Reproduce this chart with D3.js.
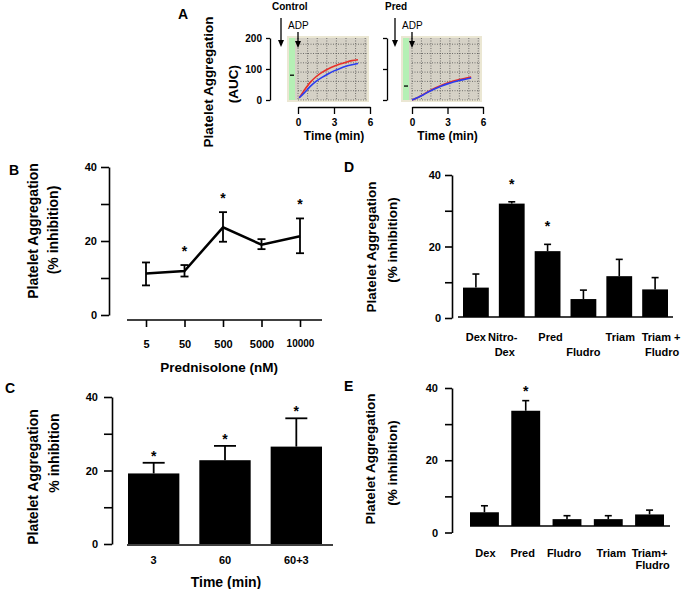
<!DOCTYPE html>
<html><head><meta charset="utf-8">
<script src="https://cdn.jsdelivr.net/npm/d3@7"></script>
<style>
body{margin:0;background:#fff}
svg{display:block}
text{font-family:"Liberation Sans",Arial,sans-serif;fill:#000}
</style>
</head><body><svg id="c" width="683" height="589"></svg>
<script>
// ---------- Panel A data (AUC traces, time in min) ----------
const ctrlTime = [0.1,0.5,1,1.5,2,2.5,3,3.5,4,4.5,5];
const controlRed = [7,30,56,75,89,100,109,116,122,127,130];
const controlBlue = [7,22,43,60,73,84,94,102,109,114,118];
const predTime = [0,0.5,1,1.5,2,2.5,3,3.5,4,4.5,5];
const predRed = [0,8,19,30,40,48,55,61,66,70,74];
const predBlue = [0,8,18,28,37,45,52,58,63,67,71];
const aucTicks = [0,100,200];
const timeTicks = [0,3,6];
const markerLevels = [80,45];

// ---------- Panel B data ----------
const bDoses = ["5","50","500","5000","10000"];
const bMean = [11.2,11.9,23.7,19.0,21.3];
const bHigh = [14.2,13.5,27.8,20.5,26.1];
const bLow  = [8.0,10.4,19.8,17.8,16.7];
const bSig  = [false,true,true,false,true];

// ---------- Panel C data ----------
const cTimes = ["3","60","60+3"];
const cMean = [19.2,22.8,26.5];
const cErr  = [2.9,3.9,7.7];
const cSig  = [true,true,true];

// ---------- Panel D data ----------
const dDrugs = ["Dex","Nitro-Dex","Pred","Fludro","Triam","Triam + Fludro"];
const dLabels = [["Dex"],["Nitro-","Dex"],["Pred"],["","Fludro"],["Triam"],["Triam +","Fludro"]];
const dMean = [8.5,32.0,18.7,5.3,11.7,8.0];
const dErr  = [3.8,0.5,1.9,2.5,4.7,3.3];
const dSig  = [false,true,true,false,false,false];

// ---------- Panel E data ----------
const eDrugs = ["Dex","Pred","Fludro","Triam","Triam+Fludro"];
const eLabels = [["Dex"],["Pred"],["Fludro"],["Triam"],["Triam+","Fludro"]];
const eMean = [5.6,33.7,3.7,3.7,5.0];
const eErr  = [1.8,2.8,0.95,0.95,1.2];
const eSig  = [false,true,false,false,false];

const pctTicks = [0,10,20,30,40];

const svg = d3.select("#c");
svg.append("rect").attr("width",683).attr("height",589).attr("fill","#fff");

function styleAxis(g, sw, fs){
  g.selectAll("path.domain").attr("stroke","#000").attr("stroke-width",sw);
  g.selectAll(".tick line").attr("stroke","#000").attr("stroke-width",sw);
  g.selectAll(".tick text").attr("font-size",fs).attr("font-weight","bold").attr("font-family","Liberation Sans, Arial, sans-serif").attr("fill","#000");
}
function vTitle(x, cy, txt, fs){
  svg.append("text").attr("transform",`translate(${x},${cy}) rotate(-90)`)
    .attr("text-anchor","middle").attr("font-size",fs).attr("font-weight","bold").text(txt);
}
function letter(x,y,t){
  svg.append("text").attr("x",x).attr("y",y).attr("font-size",14).attr("font-weight","bold").text(t);
}
function star(x, cy){
  svg.append("text").attr("x",x).attr("y",cy+8).attr("text-anchor","middle")
    .attr("font-size",14).attr("font-weight","bold").text("*");
}

// =================== Panel A ===================
letter(178,19,"A");
vTitle(213,82,"Platelet Aggregation",13.5);
vTitle(238,84,"(AUC)",13.5);

const yA = d3.scaleLinear().domain([0,200]).range([100,38]);
function tracePanel(x0, x1, axisX, showLabels, title, titleDx, tRed, tBlue, times, marker){
  const x = d3.scaleLinear().domain([0,6]).range([x0,x1]);
  // y axis bracket
  const ga = svg.append("g").attr("transform",`translate(${axisX},0)`)
    .call(d3.axisLeft(yA).tickValues(aucTicks).tickSize(4).tickSizeOuter(0).tickPadding(4)
      .tickFormat(showLabels ? d3.format("d") : () => ""));
  styleAxis(ga,1.3,10);
  // box
  const left = x(0)-11, right = x(6)-1, top = yA(200)-2, bottom = yA(0)+2;
  svg.append("rect").attr("x",left).attr("y",top).attr("width",right-left).attr("height",bottom-top).attr("fill","#ebe7d3");
  svg.append("rect").attr("x",left+2).attr("y",top+2).attr("width",right-left-4).attr("height",bottom-top-4).attr("fill","#d5d1c6");
  svg.append("rect").attr("x",left+2).attr("y",top+2).attr("width",6).attr("height",bottom-top-4).attr("fill","#b5f0b5");
  // grid
  const gx = d3.range(0,5.7,0.8), gy = d3.range(0,201,30);
  gx.forEach(t => svg.append("line").attr("x1",x(t)).attr("x2",x(t)).attr("y1",top+2).attr("y2",bottom-2)
    .attr("stroke","#444").attr("stroke-width",0.7).attr("stroke-dasharray","1,1.5"));
  gy.forEach(v => svg.append("line").attr("x1",x(0)).attr("x2",right-2).attr("y1",yA(v)).attr("y2",yA(v))
    .attr("stroke","#444").attr("stroke-width",0.7).attr("stroke-dasharray","1,1.5"));
  // marker dash in green strip
  svg.append("line").attr("x1",left+3).attr("x2",left+7).attr("y1",yA(marker)).attr("y2",yA(marker)).attr("stroke","#000").attr("stroke-width",1.3);
  // traces
  const line = d3.line().x((d,i)=>x(times[i])).y(d=>yA(d)).curve(d3.curveMonotoneX);
  svg.append("path").attr("d",line(tRed)).attr("fill","none").attr("stroke","#e8302a").attr("stroke-width",1.6);
  svg.append("path").attr("d",line(tBlue)).attr("fill","none").attr("stroke","#2b3cf0").attr("stroke-width",1.6);
  // x axis
  const gxA = svg.append("g").attr("transform","translate(0,107)")
    .call(d3.axisBottom(x).tickValues(timeTicks).tickSize(7).tickSizeOuter(0).tickPadding(5).tickFormat(d3.format("d")));
  styleAxis(gxA,1.3,10);
  svg.append("text").attr("x",x(3)).attr("y",140).attr("text-anchor","middle").attr("font-size",12).attr("font-weight","bold").text("Time (min)");
  // arrows
  function arrow(ax, y1, y2){
    svg.append("line").attr("x1",ax).attr("x2",ax).attr("y1",y1).attr("y2",y2-6).attr("stroke","#000").attr("stroke-width",1.3);
    svg.append("path").attr("d",`M${ax-3},${y2-7}L${ax+3},${y2-7}L${ax},${y2}Z`).attr("fill","#000");
  }
  arrow(x(0)-17, 18, 47);
  arrow(x(0), 32, 48);
  svg.append("text").attr("x",x(0)-10).attr("y",29).attr("font-size",10).text("ADP");
  svg.append("text").attr("x",x(0)+titleDx).attr("y",10).attr("font-size",10).attr("font-weight","bold").text(title);
}
tracePanel(298,370,270,true,"Control",-26,controlRed,controlBlue,ctrlTime,markerLevels[0]);
tracePanel(412,483,387,false,"Pred",-27,predRed,predBlue,predTime,markerLevels[1]);

// =================== Panel B ===================
letter(9,175,"B");
vTitle(38,231,"Platelet Aggregation",14);
vTitle(58,230,"(% inhibition)",14);
const xB = d3.scalePoint().domain(bDoses).range([146,300]);
const yB = d3.scaleLinear().domain([0,40]).range([315,167]);
const gyB = svg.append("g").attr("transform","translate(109,0)")
  .call(d3.axisLeft(yB).tickValues(pctTicks).tickSize(8).tickSizeOuter(0).tickPadding(4).tickFormat(d=>d%20===0?d:""));
styleAxis(gyB,1.6,11);
svg.append("line").attr("x1",127).attr("x2",322).attr("y1",320).attr("y2",320).attr("stroke","#000").attr("stroke-width",1.6);
const gxB = svg.append("g").attr("transform","translate(0,320)")
  .call(d3.axisBottom(xB).tickSize(7).tickSizeOuter(0).tickPadding(13));
gxB.select("path.domain").remove();
styleAxis(gxB,1.6,11);
gxB.selectAll(".tick text").filter(d=>d.length>4).attr("font-size",10);
svg.append("text").attr("x",219).attr("y",372).attr("text-anchor","middle").attr("font-size",13.5).attr("font-weight","bold").text("Prednisolone (nM)");
bDoses.forEach((d,i)=>{
  const cx = xB(d);
  svg.append("line").attr("x1",cx).attr("x2",cx).attr("y1",yB(bLow[i])).attr("y2",yB(bHigh[i])).attr("stroke","#000").attr("stroke-width",1.8);
  [bLow[i],bHigh[i]].forEach(v=>svg.append("line").attr("x1",cx-4).attr("x2",cx+4).attr("y1",yB(v)).attr("y2",yB(v)).attr("stroke","#000").attr("stroke-width",1.8));
  if(bSig[i]) star(cx, yB(bHigh[i])-17);
});
svg.append("path").attr("d",d3.line().x((d,i)=>xB(bDoses[i])).y(d=>yB(d))(bMean))
  .attr("fill","none").attr("stroke","#000").attr("stroke-width",2.5);

// =================== Panel C ===================
letter(5,393,"C");
vTitle(38,477,"Platelet Aggregation",14);
vTitle(59,453,"% inhibition",14);
const xC = d3.scaleBand().domain(cTimes).range([128,322]).paddingInner(0.28).paddingOuter(0);
const yC = d3.scaleLinear().domain([0,40]).range([544,397]);
const gyC = svg.append("g").attr("transform","translate(112,0)")
  .call(d3.axisLeft(yC).tickValues(pctTicks).tickSize(8).tickSizeOuter(0).tickPadding(6).tickFormat(d=>d%20===0?d:""));
styleAxis(gyC,1.6,11);
svg.append("line").attr("x1",127).attr("x2",333).attr("y1",545).attr("y2",545).attr("stroke","#000").attr("stroke-width",1.6);
cTimes.forEach((t,i)=>{
  const cx = xC(t)+xC.bandwidth()/2;
  const top = yC(cMean[i]+cErr[i]);
  svg.append("line").attr("x1",cx).attr("x2",cx).attr("y1",yC(cMean[i])).attr("y2",top).attr("stroke","#000").attr("stroke-width",1.8);
  svg.append("line").attr("x1",cx-11).attr("x2",cx+11).attr("y1",top).attr("y2",top).attr("stroke","#000").attr("stroke-width",1.8);
  svg.append("rect").attr("x",xC(t)).attr("y",yC(cMean[i])).attr("width",xC.bandwidth()).attr("height",yC(0)-yC(cMean[i])).attr("fill","#000");
  if(cSig[i]) star(cx, top-10);
});
const gxC = svg.append("g").attr("transform","translate(0,545)")
  .call(d3.axisBottom(xC).tickSize(0).tickPadding(11));
gxC.select("path.domain").remove();
styleAxis(gxC,1.6,11);
svg.append("text").attr("x",226).attr("y",587).attr("text-anchor","middle").attr("font-size",14).attr("font-weight","bold").text("Time (min)");

// =================== Panel D & E ===================
function barPanel(o){
  letter(344,o.letterY,o.letter);
  vTitle(o.t1x,o.t1y,"Platelet Aggregation",13.5);
  vTitle(o.t2x,o.t2y,"(% inhibition)",13.5);
  const x = d3.scaleBand().domain(o.cats).range(o.xr).paddingInner(o.pad).paddingOuter(0);
  const y = d3.scaleLinear().domain([0,40]).range(o.yr);
  const gy = svg.append("g").attr("transform","translate(452,0)")
    .call(d3.axisLeft(y).tickValues(pctTicks).tickSize(7).tickSizeOuter(0).tickPadding(o.tpad).tickFormat(d=>d%20===0?d:""));
  styleAxis(gy,1.6,11);
  const base = y(0) - o.baseShift;
  svg.append("line").attr("x1",o.axis[0]).attr("x2",o.axis[1]).attr("y1",base).attr("y2",base).attr("stroke","#000").attr("stroke-width",1.6);
  o.cats.forEach((c,i)=>{
    const cx = x(c)+x.bandwidth()/2;
    const top = y(o.mean[i]+o.err[i]);
    svg.append("line").attr("x1",cx).attr("x2",cx).attr("y1",y(o.mean[i])).attr("y2",top).attr("stroke","#000").attr("stroke-width",1.6);
    svg.append("line").attr("x1",cx-3.5).attr("x2",cx+3.5).attr("y1",top).attr("y2",top).attr("stroke","#000").attr("stroke-width",1.6);
    svg.append("rect").attr("x",x(c)).attr("y",y(o.mean[i])).attr("width",x.bandwidth()).attr("height",base-y(o.mean[i])).attr("fill","#000");
    if(o.sig[i]) star(cx, top-o.starOff);
    o.labels[i].forEach((ln,k)=>{
      svg.append("text").attr("x",cx+o.ldx[i]+(k===1?o.l2dx[i]:0)).attr("y",o.ly[k]).attr("text-anchor","middle")
        .attr("font-size",11).attr("font-weight","bold").text(ln);
    });
  });
}
barPanel({letter:"D",letterY:172,t1x:376,t1y:247,t2x:397,t2y:240,cats:dDrugs,labels:dLabels,
  mean:dMean,err:dErr,sig:dSig,xr:[463,668],pad:0.28,yr:[318,175],tpad:4,baseShift:1,axis:[458,673],
  starOff:21,ly:[341,356],ldx:[0,-9,3,0,1,6],l2dx:[0,2,0,0,0,1]});
barPanel({letter:"E",letterY:391,t1x:375,t1y:459,t2x:397,t2y:463,cats:eDrugs,labels:eLabels,
  mean:eMean,err:eErr,sig:eSig,xr:[470,664],pad:0.3,yr:[532.5,388],tpad:7,baseShift:6.5,axis:[470,670],
  starOff:12.7,ly:[557,569],ldx:[1,-3,-3,3,0],l2dx:[0,3,0,0,3]});
</script>
</body></html>
